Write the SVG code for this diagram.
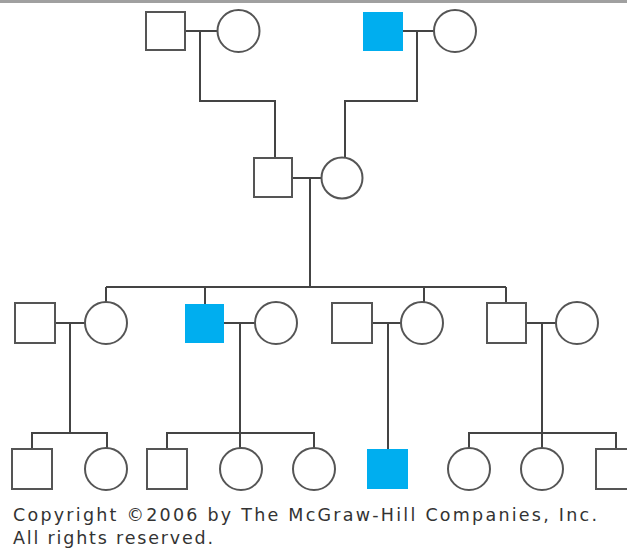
<svg xmlns="http://www.w3.org/2000/svg" width="627" height="548" viewBox="0 0 627 548">
<style>
.s{fill:#fff;stroke:#555;stroke-width:2}
.a{fill:#00aeef;stroke:none}
.l{fill:none;stroke:#444;stroke-width:2}
.t{font-family:"DejaVu Sans",Verdana,sans-serif;font-size:17.5px;fill:#333}
</style>
<rect x="0" y="0" width="627" height="548" fill="#fff"/>
<rect x="0" y="0" width="627" height="3" fill="#a0a0a0"/>
<g id="connectors">
<path class="l" d="M185 31H217M200 31V101H275V158"/>
<path class="l" d="M403 31H434M417 31V101H345V158"/>
<path class="l" d="M292 178H321M310 178V287"/>
<path class="l" d="M106 287H506M106 287V302M205 287V304M424 287V302M506 287V303"/>
<path class="l" d="M55 323H85M70 323V433M32 449V433H107V448"/>
<path class="l" d="M224 323H255M240 323V448M167 449V433H314V448"/>
<path class="l" d="M372 323H401M388 323V449"/>
<path class="l" d="M526 323H556M542 323V448M469 448V433H616V449"/>
</g>
<g id="g1m1"><rect class="s" x="146" y="12" width="39" height="38"/></g>
<g id="g1f1"><circle class="s" cx="238.5" cy="31" r="21"/></g>
<g id="g1m2"><rect class="a" x="363" y="12" width="40" height="39"/></g>
<g id="g1f2"><circle class="s" cx="455" cy="31" r="21"/></g>
<g id="g2m"><rect class="s" x="254" y="158" width="38" height="39"/></g>
<g id="g2f"><circle class="s" cx="342" cy="178" r="20.5"/></g>
<g id="g3m1"><rect class="s" x="15" y="303" width="40" height="40"/></g>
<g id="g3f1"><circle class="s" cx="106" cy="323" r="21"/></g>
<g id="g3m2"><rect class="a" x="185" y="304" width="39" height="39"/></g>
<g id="g3f2"><circle class="s" cx="276" cy="323" r="21"/></g>
<g id="g3m3"><rect class="s" x="332" y="303" width="40" height="40"/></g>
<g id="g3f3"><circle class="s" cx="422" cy="323" r="21"/></g>
<g id="g3m4"><rect class="s" x="487" y="303" width="39" height="40"/></g>
<g id="g3f4"><circle class="s" cx="577" cy="323" r="21"/></g>
<g id="g4m1"><rect class="s" x="12" y="449" width="40" height="40"/></g>
<g id="g4f1"><circle class="s" cx="106" cy="469" r="21"/></g>
<g id="g4m2"><rect class="s" x="147" y="449" width="40" height="40"/></g>
<g id="g4f2"><circle class="s" cx="241" cy="469" r="21"/></g>
<g id="g4f3"><circle class="s" cx="314" cy="469" r="21"/></g>
<g id="g4m3"><rect class="a" x="367" y="449" width="41" height="40"/></g>
<g id="g4f4"><circle class="s" cx="469" cy="469" r="21"/></g>
<g id="g4f5"><circle class="s" cx="542" cy="469" r="21"/></g>
<g id="g4m4"><rect class="s" x="596" y="449" width="40" height="40"/></g>
<text class="t" x="13" y="521" textLength="584" lengthAdjust="spacing">Copyright ©2006 by The McGraw-Hill Companies, Inc.</text>
<text class="t" x="13" y="544" textLength="200" lengthAdjust="spacing">All rights reserved.</text>
</svg>
